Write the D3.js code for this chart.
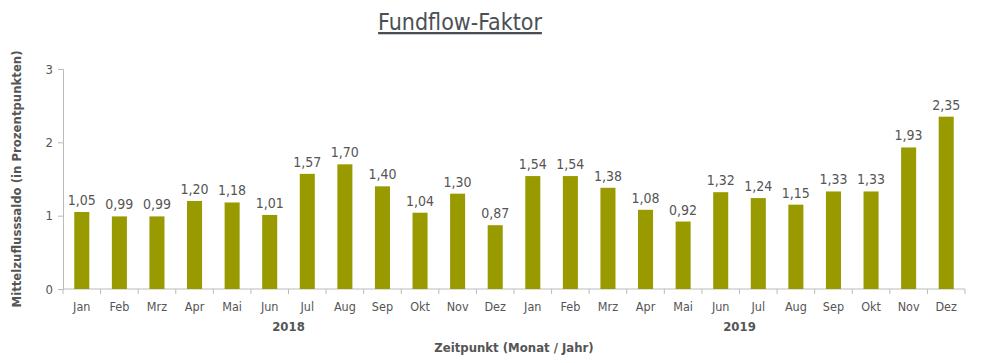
<!DOCTYPE html>
<html>
<head>
<meta charset="utf-8">
<script src="https://cdn.jsdelivr.net/npm/d3@7"></script>
<style>
  body { margin: 0; background: #fff; }
  svg text { font-family: "DejaVu Sans Condensed", "Open Sans", sans-serif; fill: #555; }
</style>
</head>
<body>
<svg id="chart" width="982" height="363"></svg>
<script>
const months = ['Jan', 'Feb', 'Mrz', 'Apr', 'Mai', 'Jun', 'Jul', 'Aug', 'Sep', 'Okt', 'Nov', 'Dez']
const years = ['2018', '2019']
const values = [1.05, 0.99, 0.99, 1.20, 1.18, 1.01, 1.57, 1.70, 1.40, 1.04, 1.30, 0.87,
                1.54, 1.54, 1.38, 1.08, 0.92, 1.32, 1.24, 1.15, 1.33, 1.33, 1.93, 2.35]
const yTicks = [0, 1, 2, 3]

const categories = years.flatMap(y => months.map(m => `${ m } ${ y }`))
const data = categories.map((c, i) => ({ key: c, month: c.split(' ')[0], value: values[i] }))

const svg = d3.select('#chart')
const margin = { top: 69, right: 17, bottom: 74, left: 63 }
const width = 982, height = 363

const xScale = d3.scaleBand()
    .domain(categories)
    .range([margin.left, width - margin.right])
    .paddingInner(0.6).paddingOuter(0.3)

const yScale = d3.scaleLinear()
    .domain([0, 3])
    .range([height - margin.bottom, margin.top])

const step = xScale.step()
const x0 = margin.left

// title
svg.append('text')
    .attr('x', 460).attr('y', 30)
    .attr('text-anchor', 'middle')
    .attr('font-size', 23)
    .attr('text-decoration', 'underline')
    .style('fill', '#4a4f55')
    .text('Fundflow-Faktor')

// y axis
const yAxis = svg.append('g')
    .attr('transform', `translate(${ margin.left },0)`)
    .call(d3.axisLeft(yScale).tickValues(yTicks).tickSize(5).tickPadding(5).tickFormat(d3.format('d')))
yAxis.select('.domain').attr('stroke', '#bbb')
yAxis.selectAll('.tick line').attr('stroke', '#bbb')
yAxis.selectAll('.tick text').attr('font-size', 13)

// x axis with ticks at category boundaries
const xBase = yScale(0)
const xAxis = svg.append('g')
xAxis.append('line')
    .attr('x1', x0).attr('x2', width - margin.right)
    .attr('y1', xBase).attr('y2', xBase)
    .attr('stroke', '#bbb')
xAxis.selectAll('line.tick')
    .data(d3.range(categories.length + 1))
    .join('line')
    .attr('class', 'tick')
    .attr('x1', i => x0 + i * step).attr('x2', i => x0 + i * step)
    .attr('y1', xBase).attr('y2', xBase + 5)
    .attr('stroke', '#bbb')
xAxis.selectAll('text.month')
    .data(data)
    .join('text')
    .attr('class', 'month')
    .attr('x', d => xScale(d.key) + xScale.bandwidth() / 2)
    .attr('y', xBase + 22)
    .attr('text-anchor', 'middle')
    .attr('font-size', 12.5)
    .text(d => d.month)

// year labels
svg.selectAll('text.year')
    .data(years)
    .join('text')
    .attr('class', 'year')
    .attr('x', (d, i) => x0 + (i * 12 + 6) * step)
    .attr('y', xBase + 42)
    .attr('text-anchor', 'middle')
    .attr('font-size', 13)
    .attr('font-weight', 'bold')
    .text(d => d)

// bars
svg.append('g')
    .selectAll('rect')
    .data(data)
    .join('rect')
    .attr('x', d => xScale(d.key))
    .attr('width', xScale.bandwidth())
    .attr('y', d => yScale(d.value))
    .attr('height', d => yScale(0) - yScale(d.value))
    .attr('fill', '#999900')

// value labels
const fmt = v => v.toFixed(2).replace('.', ',')
svg.append('g')
    .selectAll('text')
    .data(data)
    .join('text')
    .attr('x', d => xScale(d.key) + xScale.bandwidth() / 2)
    .attr('y', d => yScale(d.value) - 7)
    .attr('text-anchor', 'middle')
    .attr('font-size', 14)
    .text(d => fmt(d.value))

// axis titles
svg.append('text')
    .attr('x', 514).attr('y', 352)
    .attr('text-anchor', 'middle')
    .attr('font-size', 13)
    .attr('font-weight', 'bold')
    .text('Zeitpunkt (Monat / Jahr)')

svg.append('text')
    .attr('transform', `translate(21, ${ (margin.top + xBase) / 2 }) rotate(-90)`)
    .attr('text-anchor', 'middle')
    .attr('font-size', 13)
    .attr('font-weight', 'bold')
    .text('Mittelzuflusssaldo (in Prozentpunkten)')
</script>
</body>
</html>
